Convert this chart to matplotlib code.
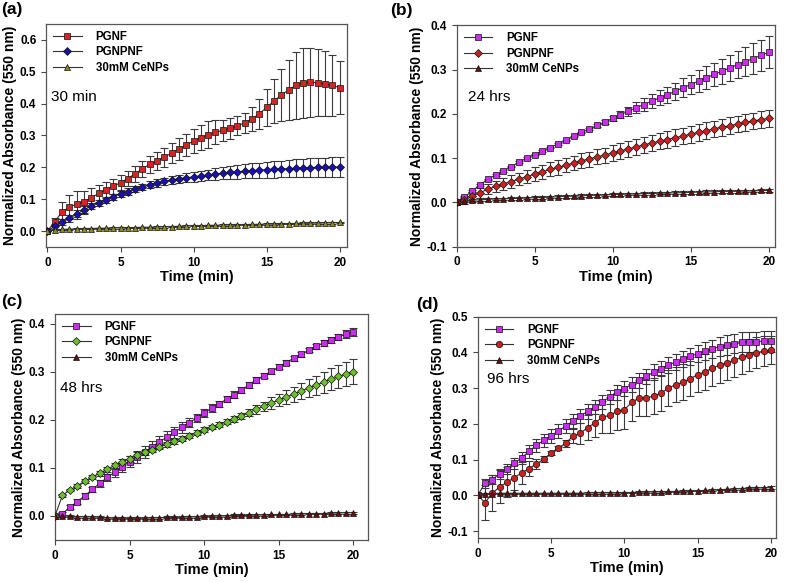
import numpy as np
import matplotlib
matplotlib.use('Agg')
import matplotlib.pyplot as plt

plt.rcParams['font.family'] = ['Liberation Sans', 'DejaVu Sans']

# time axis shared by all panels (min)
time = [0, 0.5, 1, 1.5, 2, 2.5, 3, 3.5, 4, 4.5, 5, 5.5, 6, 6.5, 7, 7.5, 8, 8.5, 9, 9.5,
        10, 10.5, 11, 11.5, 12, 12.5, 13, 13.5, 14, 14.5, 15, 15.5, 16, 16.5, 17, 17.5,
        18, 18.5, 19, 19.5, 20]

labels = ['PGNF', 'PGNPNF', '30mM CeNPs']

# ---- (a) 30 min ----
a_pgnf = [0, 0.03, 0.06, 0.075, 0.085, 0.092, 0.105, 0.118, 0.13, 0.14, 0.152, 0.165, 0.18,
          0.195, 0.21, 0.22, 0.232, 0.245, 0.258, 0.27, 0.283, 0.293, 0.302, 0.31, 0.316,
          0.322, 0.33, 0.34, 0.352, 0.368, 0.388, 0.408, 0.427, 0.443, 0.458, 0.466, 0.467,
          0.466, 0.462, 0.457, 0.45]
a_pgnf_err = [0, 0.012, 0.032, 0.038, 0.04, 0.035, 0.03, 0.028, 0.025, 0.025, 0.024, 0.025,
              0.025, 0.026, 0.027, 0.028, 0.03, 0.032, 0.034, 0.035, 0.037, 0.04, 0.042, 0.038,
              0.034, 0.033, 0.03, 0.032, 0.038, 0.047, 0.058, 0.07, 0.082, 0.095, 0.105, 0.11,
              0.108, 0.105, 0.102, 0.095, 0.083]
a_pgnpnf = [0, 0.015, 0.028, 0.04, 0.053, 0.067, 0.078, 0.088, 0.098, 0.107, 0.117, 0.124,
            0.132, 0.139, 0.146, 0.151, 0.156, 0.16, 0.164, 0.167, 0.17, 0.173, 0.176, 0.179,
            0.182, 0.184, 0.186, 0.188, 0.19, 0.191, 0.193, 0.194, 0.195, 0.196, 0.197, 0.198,
            0.199, 0.2, 0.2, 0.201, 0.201]
a_pgnpnf_err = [0, 0.008, 0.01, 0.012, 0.014, 0.012, 0.01, 0.01, 0.01, 0.01, 0.01, 0.01, 0.01,
                0.01, 0.012, 0.012, 0.012, 0.013, 0.013, 0.014, 0.015, 0.016, 0.017, 0.018,
                0.019, 0.02, 0.021, 0.022, 0.023, 0.024, 0.025, 0.026, 0.026, 0.027, 0.028,
                0.028, 0.029, 0.03, 0.03, 0.031, 0.031]
a_ce = [0, 0.004, 0.005, 0.006, 0.007, 0.008, 0.008, 0.009, 0.009, 0.01, 0.01, 0.011, 0.011,
        0.012, 0.012, 0.013, 0.013, 0.014, 0.015, 0.016, 0.017, 0.017, 0.018, 0.018, 0.019,
        0.019, 0.02, 0.02, 0.021, 0.021, 0.022, 0.022, 0.023, 0.023, 0.024, 0.024, 0.025,
        0.025, 0.026, 0.026, 0.027]
a_ce_err = [0, 0.002, 0.002, 0.002, 0.002, 0.002, 0.002, 0.002, 0.002, 0.002, 0.002, 0.002,
            0.002, 0.002, 0.002, 0.002, 0.002, 0.002, 0.002, 0.002, 0.002, 0.002, 0.002, 0.002,
            0.002, 0.002, 0.002, 0.002, 0.002, 0.002, 0.002, 0.002, 0.002, 0.002, 0.002, 0.003,
            0.003, 0.003, 0.003, 0.003, 0.003]

# ---- (b) 24 hrs ----
b_pgnf = [0, 0.012, 0.026, 0.04, 0.052, 0.062, 0.071, 0.081, 0.091, 0.1, 0.108, 0.116, 0.124,
          0.132, 0.14, 0.149, 0.158, 0.166, 0.174, 0.182, 0.19, 0.198, 0.206, 0.214, 0.221,
          0.229, 0.236, 0.243, 0.251, 0.259, 0.266, 0.274, 0.282, 0.289, 0.296, 0.304, 0.311,
          0.318, 0.325, 0.332, 0.339]
b_pgnf_err = [0, 0.002, 0.002, 0.002, 0.002, 0.002, 0.002, 0.002, 0.002, 0.002, 0.002, 0.002,
              0.002, 0.002, 0.002, 0.002, 0.002, 0.003, 0.004, 0.005, 0.006, 0.008, 0.01,
              0.012, 0.014, 0.015, 0.017, 0.018, 0.019, 0.021, 0.022, 0.024, 0.026, 0.027,
              0.028, 0.03, 0.031, 0.032, 0.034, 0.035, 0.036]
b_pgnpnf = [0, 0.005, 0.014, 0.022, 0.03, 0.036, 0.042, 0.047, 0.053, 0.058, 0.064, 0.069,
            0.075, 0.079, 0.084, 0.089, 0.094, 0.098, 0.103, 0.107, 0.112, 0.116, 0.121, 0.125,
            0.13, 0.134, 0.138, 0.142, 0.146, 0.15, 0.154, 0.158, 0.162, 0.166, 0.17, 0.173,
            0.177, 0.181, 0.184, 0.187, 0.19]
b_pgnpnf_err = [0, 0.008, 0.01, 0.011, 0.012, 0.013, 0.013, 0.014, 0.014, 0.015, 0.015, 0.015,
                0.016, 0.016, 0.016, 0.016, 0.017, 0.017, 0.017, 0.017, 0.018, 0.018, 0.018,
                0.018, 0.018, 0.018, 0.018, 0.019, 0.019, 0.019, 0.019, 0.019, 0.019, 0.019,
                0.019, 0.019, 0.019, 0.019, 0.019, 0.019, 0.019]
b_ce = [0, 0.003, 0.005, 0.006, 0.007, 0.008, 0.008, 0.009, 0.009, 0.01, 0.011, 0.011, 0.012,
        0.013, 0.014, 0.014, 0.015, 0.016, 0.016, 0.017, 0.018, 0.018, 0.019, 0.019, 0.02,
        0.02, 0.021, 0.021, 0.022, 0.022, 0.023, 0.023, 0.024, 0.024, 0.025, 0.025, 0.025,
        0.026, 0.026, 0.027, 0.027]
b_ce_err = [0, 0.003, 0.003, 0.003, 0.003, 0.003, 0.003, 0.003, 0.003, 0.003, 0.003, 0.003,
            0.003, 0.003, 0.003, 0.003, 0.003, 0.003, 0.003, 0.003, 0.003, 0.003, 0.003, 0.003,
            0.003, 0.003, 0.003, 0.003, 0.003, 0.003, 0.003, 0.003, 0.003, 0.003, 0.003, 0.003,
            0.003, 0.003, 0.003, 0.003, 0.003]

# ---- (c) 48 hrs ----
c_pgnf = [0, 0.005, 0.018, 0.03, 0.042, 0.055, 0.068, 0.08, 0.091, 0.102, 0.113, 0.123, 0.133,
          0.144, 0.154, 0.164, 0.174, 0.184, 0.194, 0.204, 0.214, 0.224, 0.233, 0.243, 0.252,
          0.262, 0.273, 0.283, 0.292, 0.301, 0.31, 0.319, 0.328, 0.336, 0.345, 0.353, 0.36,
          0.366, 0.372, 0.378, 0.383]
c_pgnf_err = [0, 0.003, 0.004, 0.005, 0.005, 0.006, 0.007, 0.008, 0.009, 0.01, 0.012, 0.012,
              0.012, 0.012, 0.012, 0.012, 0.012, 0.011, 0.01, 0.009, 0.008, 0.008, 0.007,
              0.007, 0.007, 0.006, 0.006, 0.006, 0.005, 0.005, 0.005, 0.005, 0.005, 0.005,
              0.005, 0.005, 0.006, 0.006, 0.007, 0.008, 0.008]
c_pgnpnf = [0, 0.043, 0.054, 0.063, 0.072, 0.081, 0.089, 0.097, 0.105, 0.112, 0.119, 0.126,
            0.132, 0.138, 0.144, 0.149, 0.155, 0.161, 0.167, 0.173, 0.179, 0.185, 0.19, 0.196,
            0.202, 0.208, 0.215, 0.222, 0.228, 0.235, 0.241, 0.247, 0.253, 0.26, 0.266, 0.272,
            0.278, 0.284, 0.29, 0.295, 0.3]
c_pgnpnf_err = [0, 0.003, 0.003, 0.004, 0.004, 0.005, 0.005, 0.005, 0.006, 0.006, 0.006,
                0.006, 0.006, 0.006, 0.005, 0.005, 0.005, 0.005, 0.005, 0.005, 0.005, 0.005,
                0.005, 0.005, 0.006, 0.007, 0.008, 0.009, 0.01, 0.012, 0.013, 0.014, 0.016,
                0.017, 0.019, 0.02, 0.022, 0.023, 0.024, 0.025, 0.026]
c_ce = [0, 0.0, -0.001, -0.002, -0.002, -0.002, -0.003, -0.004, -0.005, -0.005, -0.005,
        -0.005, -0.005, -0.004, -0.004, -0.003, -0.003, -0.003, -0.002, -0.002, -0.001,
        -0.001, 0.0, 0.0, 0.001, 0.001, 0.001, 0.002, 0.002, 0.003, 0.003, 0.003, 0.004,
        0.004, 0.005, 0.005, 0.005, 0.006, 0.006, 0.007, 0.007]
c_ce_err = [0, 0.002, 0.002, 0.002, 0.002, 0.002, 0.002, 0.002, 0.002, 0.002, 0.002, 0.002,
            0.002, 0.002, 0.002, 0.002, 0.002, 0.002, 0.002, 0.002, 0.002, 0.002, 0.002, 0.002,
            0.002, 0.002, 0.002, 0.002, 0.002, 0.002, 0.002, 0.002, 0.002, 0.002, 0.002, 0.002,
            0.002, 0.002, 0.002, 0.002, 0.002]

# ---- (d) 96 hrs ----
d_pgnf = [0, 0.034, 0.044, 0.061, 0.074, 0.09, 0.105, 0.123, 0.14, 0.154, 0.167, 0.18, 0.194,
          0.208, 0.222, 0.235, 0.247, 0.262, 0.275, 0.288, 0.299, 0.31, 0.322, 0.333, 0.345,
          0.355, 0.365, 0.373, 0.381, 0.389, 0.397, 0.404, 0.41, 0.416, 0.421, 0.425, 0.428,
          0.43, 0.43, 0.432, 0.431]
d_pgnf_err = [0, 0.012, 0.013, 0.014, 0.015, 0.016, 0.017, 0.018, 0.018, 0.019, 0.02, 0.02,
              0.02, 0.02, 0.02, 0.02, 0.02, 0.02, 0.02, 0.02, 0.02, 0.021, 0.021, 0.021, 0.022,
              0.022, 0.022, 0.023, 0.023, 0.024, 0.025, 0.025, 0.026, 0.026, 0.027, 0.027,
              0.028, 0.028, 0.028, 0.029, 0.029]
d_pgnpnf = [0, -0.02, 0.006, 0.024, 0.037, 0.05, 0.063, 0.075, 0.088, 0.101, 0.118, 0.133,
            0.146, 0.166, 0.174, 0.19, 0.203, 0.219, 0.224, 0.235, 0.24, 0.26, 0.273, 0.272,
            0.279, 0.286, 0.3, 0.31, 0.317, 0.327, 0.338, 0.346, 0.356, 0.365, 0.371, 0.379,
            0.386, 0.393, 0.399, 0.403, 0.407]
d_pgnpnf_err = [0, 0.05, 0.05, 0.046, 0.042, 0.036, 0.03, 0.022, 0.015, 0.008, 0.005, 0.006,
                0.01, 0.02, 0.03, 0.035, 0.04, 0.045, 0.05, 0.052, 0.055, 0.052, 0.05, 0.05,
                0.05, 0.05, 0.05, 0.05, 0.05, 0.05, 0.05, 0.05, 0.05, 0.05, 0.048, 0.047, 0.045,
                0.044, 0.043, 0.042, 0.04]
d_ce = [0, 0.005, 0.005, 0.006, 0.006, 0.006, 0.006, 0.006, 0.006, 0.006, 0.006, 0.006, 0.006,
        0.006, 0.006, 0.007, 0.007, 0.007, 0.007, 0.007, 0.008, 0.008, 0.009, 0.009, 0.01,
        0.01, 0.011, 0.011, 0.012, 0.013, 0.013, 0.014, 0.015, 0.016, 0.017, 0.018, 0.019,
        0.02, 0.021, 0.021, 0.022]
d_ce_err = [0, 0.002, 0.002, 0.002, 0.002, 0.002, 0.002, 0.002, 0.002, 0.002, 0.002, 0.002,
            0.002, 0.002, 0.002, 0.002, 0.002, 0.002, 0.002, 0.002, 0.002, 0.002, 0.002, 0.002,
            0.002, 0.002, 0.002, 0.002, 0.002, 0.002, 0.002, 0.002, 0.002, 0.002, 0.002, 0.002,
            0.003, 0.003, 0.003, 0.003, 0.003]

# colours
red = '#d42424'
blue = '#1a10b0'
olive = '#8c8a1c'
magenta = '#cc2cf0'
dred = '#cc2020'
brown = '#6a0e0e'
green = '#6cc02c'

panels = [
    # tag, axes rect, xlim, ylim, yticks, note, note pos, series
    ('(a)', [0.0583, 0.5756, 0.3815, 0.3832], (-0.1, 20.5), (-0.05, 0.65),
     [0.0, 0.1, 0.2, 0.3, 0.4, 0.5, 0.6], '30 min', (0.25, 0.42),
     [(a_pgnf, a_pgnf_err, 's', red), (a_pgnpnf, a_pgnpnf_err, 'D', blue),
      (a_ce, a_ce_err, '^', olive)]),
    ('(b)', [0.5788, 0.5761, 0.4034, 0.3804], (0, 20.4), (-0.1, 0.4),
     [-0.1, 0.0, 0.1, 0.2, 0.3, 0.4], '24 hrs', (0.7, 0.238),
     [(b_pgnf, b_pgnf_err, 's', magenta), (b_pgnpnf, b_pgnpnf_err, 'D', dred),
      (b_ce, b_ce_err, '^', brown)]),
    ('(c)', [0.0697, 0.0722, 0.3971, 0.3883], (0, 21.0), (-0.05, 0.42),
     [0.0, 0.1, 0.2, 0.3, 0.4], '48 hrs', (0.34, 0.266),
     [(c_pgnf, c_pgnf_err, 's', magenta), (c_pgnpnf, c_pgnpnf_err, 'D', green),
      (c_ce, c_ce_err, '^', brown)]),
    ('(d)', [0.6054, 0.0751, 0.3781, 0.3807], (0, 20.34), (-0.12, 0.5),
     [-0.1, 0.0, 0.1, 0.2, 0.3, 0.4, 0.5], '96 hrs', (0.61, 0.326),
     [(d_pgnf, d_pgnf_err, 's', magenta), (d_pgnpnf, d_pgnpnf_err, 'o', dred),
      (d_ce, d_ce_err, '^', brown)]),
]

tag_pos = {'(a)': (0.001, 0.997), '(b)': (0.494, 0.995), '(c)': (0.002, 0.494),
           '(d)': (0.528, 0.489)}
marker_size = {'s': 4.5, 'D': 3.9, 'o': 4.6, '^': 4.3}

fig = plt.figure(figsize=(7.89, 5.82), dpi=100)

for tag, rect, xlim, ylim, yticks, note, note_xy, series in panels:
    ax = fig.add_axes(rect)
    handles = []
    for i, (y, err, mk, col) in enumerate(series):
        ax.errorbar(time, y, yerr=err, fmt='none', ecolor='#3a3a3a', elinewidth=0.8,
                    capsize=2.6, capthick=0.8, zorder=2)
        h, = ax.plot(time, y, color='#333333', lw=0.8, marker=mk, ms=marker_size[mk],
                     markerfacecolor=col, markeredgecolor='#111111', markeredgewidth=0.5,
                     zorder=3 + i)
        handles.append(h)
    ax.set_xlim(*xlim)
    ax.set_ylim(*ylim)
    ax.set_xticks([0, 5, 10, 15, 20])
    ax.set_yticks(yticks)
    ax.set_yticklabels(['%.1f' % v for v in yticks])
    ax.tick_params(direction='out', length=3.5, width=0.8, labelsize=8.5, color='#444444')
    for lab in ax.get_xticklabels() + ax.get_yticklabels():
        lab.set_fontweight('bold')
    for sp in ax.spines.values():
        sp.set_color('#555555')
        sp.set_linewidth(0.9)
    ax.set_xlabel('Time (min)', fontsize=10.5, fontweight='bold', labelpad=1)
    ax.set_ylabel('Normalized Absorbance (550 nm)', fontsize=10, fontweight='bold', labelpad=2)
    ax.text(note_xy[0], note_xy[1], note, fontsize=11, va='center', ha='left')
    ax.legend(handles, labels, loc='upper left', frameon=False,
              prop={'weight': 'bold', 'size': 8.3}, handlelength=2.5, handletextpad=1.2,
              labelspacing=0.3, borderaxespad=0.3, borderpad=0.3)
    fig.text(tag_pos[tag][0], tag_pos[tag][1], tag, fontsize=12.5, fontweight='bold',
             ha='left', va='top')

plt.savefig('out.png', dpi=100)
